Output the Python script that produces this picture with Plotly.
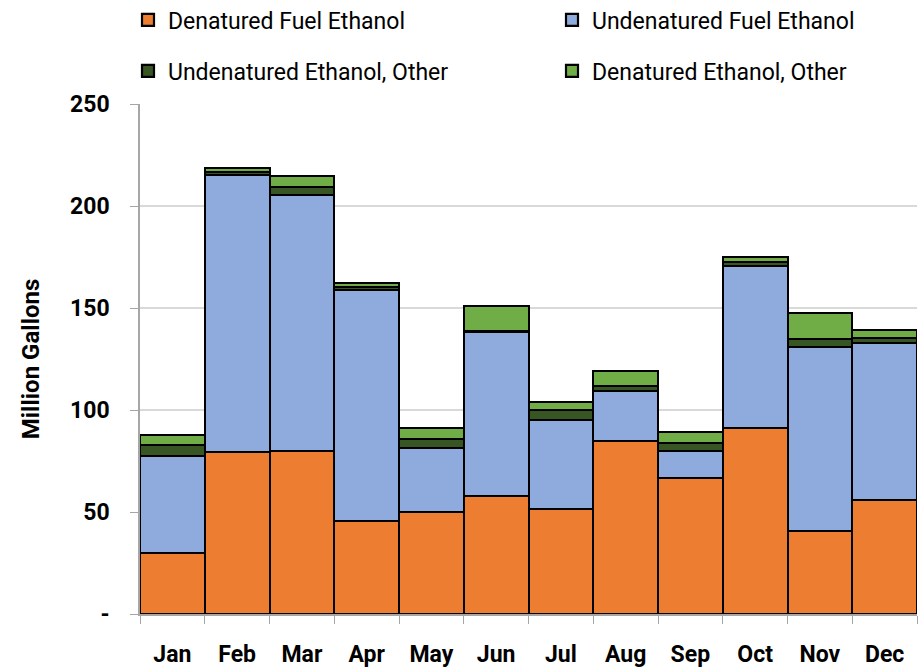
import plotly.graph_objects as go

months = ["Jan", "Feb", "Mar", "Apr", "May", "Jun", "Jul", "Aug", "Sep", "Oct", "Nov", "Dec"]
denatured_fuel = [30.0, 79.5, 80.0, 45.6, 50.0, 57.8, 51.5, 84.8, 66.7, 91.2, 40.7, 55.9]
undenatured_fuel = [47.5, 135.7, 125.4, 113.2, 31.4, 80.4, 43.6, 24.5, 13.2, 79.4, 90.2, 76.9]
undenatured_other = [5.3, 1.7, 3.9, 1.5, 4.4, 0.5, 4.9, 2.5, 3.9, 2.0, 3.9, 2.5]
denatured_other = [5.0, 1.7, 5.4, 1.9, 5.4, 12.3, 3.9, 7.3, 5.4, 2.5, 12.7, 3.9]

y_ticks = [0, 50, 100, 150, 200, 250]
y_tick_text = ["-", "50", "100", "150", "200", "250"]

series = [
    ("Denatured Fuel Ethanol", denatured_fuel, "#ED7D31", "legend"),
    ("Undenatured Fuel Ethanol", undenatured_fuel, "#8FAADC", "legend2"),
    ("Undenatured Ethanol, Other", undenatured_other, "#375623", "legend3"),
    ("Denatured Ethanol, Other", denatured_other, "#70AD47", "legend4"),
]

FONT = "Roboto, Liberation Sans, sans-serif"

fig = go.Figure()
for name, vals, color, lg in series:
    fig.add_trace(go.Bar(
        x=months, y=vals, name=name, legend=lg,
        marker=dict(color=color, line=dict(color="black", width=2.2)),
    ))

def leg(x, y):
    return dict(
        x=x, xanchor="left", y=y, yanchor="middle",
        font=dict(size=23, family=FONT, color="black"),
        bgcolor="rgba(0,0,0,0)", borderwidth=0,
    )

row1 = (614 - 20) / 510
row2 = (614 - 71) / 510
col1 = (128 - 140) / 777
col2 = (552 - 140) / 777

fig.update_layout(
    barmode="stack",
    bargap=0,
    width=919, height=669,
    margin=dict(l=140, r=2, t=104, b=55, autoexpand=False),
    plot_bgcolor="white",
    paper_bgcolor="white",
    font=dict(family=FONT, color="black"),
    showlegend=True,
    legend=leg(col1, row1),
    legend2=leg(col2, row1),
    legend3=leg(col1, row2),
    legend4=leg(col2, row2),
    xaxis=dict(
        showline=True, linecolor="#A6A6A6", linewidth=1.5,
        ticks="outside", tickson="boundaries", ticklen=8, tickcolor="#A6A6A6",
        tickfont=dict(size=23, family=FONT, weight="bold"),
        ticklabelstandoff=19,
        showgrid=False,
    ),
    yaxis=dict(
        range=[0, 250],
        tickvals=y_ticks, ticktext=y_tick_text,
        showline=True, linecolor="#A6A6A6", linewidth=1.5,
        ticks="outside", ticklen=8, tickcolor="#A6A6A6",
        showgrid=True, gridcolor="#D9D9D9", gridwidth=1.5,
        tickfont=dict(size=23, family=FONT, weight="bold"),
        ticklabelstandoff=16,
        title=dict(text="Million Gallons", font=dict(size=24, family=FONT, weight="bold"), standoff=24),
        zeroline=False,
    ),
)

fig.write_html("out.html", config={"displayModeBar": False},
               post_script="document.body.style.margin='0';")
